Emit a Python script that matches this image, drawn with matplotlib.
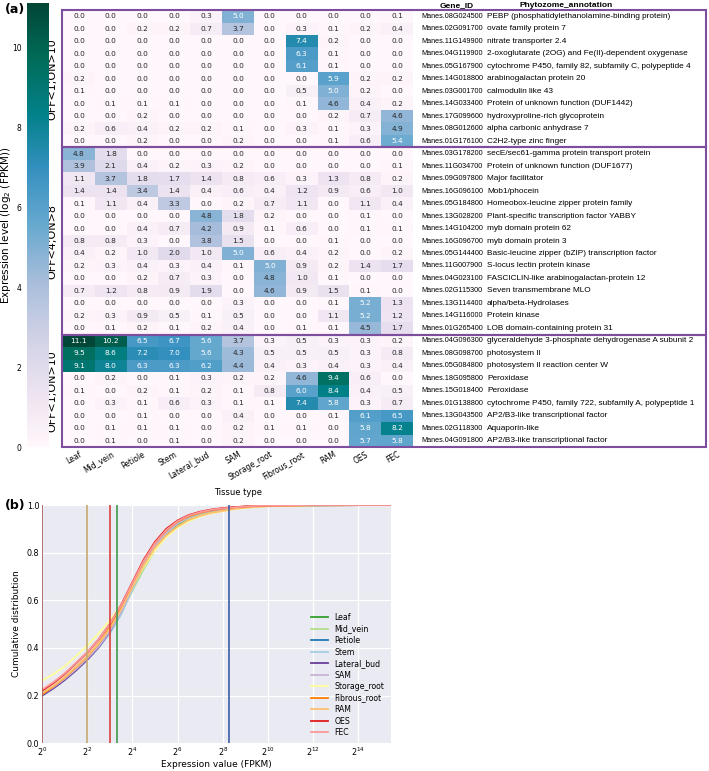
import numpy as np
import matplotlib
matplotlib.use('Agg')
import matplotlib.pyplot as plt
import seaborn as sns
from matplotlib.patches import Rectangle

# ---- panel (a) data ----
tissues = ['Leaf', 'Mid_vein', 'Petiole', 'Stem', 'Lateral_bud', 'SAM',
           'Storage_root', 'Fibrous_root', 'RAM', 'OES', 'FEC']
group_labels = ['OFF<1;ON>10', 'OFF<4;ON>8', 'OFF<1;ON>10']
group_sizes = [11, 15, 9]

gene_ids = [
    'Manes.08G024500', 'Manes.02G091700', 'Manes.11G149900', 'Manes.04G119900',
    'Manes.05G167900', 'Manes.14G018800', 'Manes.03G001700', 'Manes.14G033400',
    'Manes.17G099600', 'Manes.08G012600', 'Manes.01G176100',
    'Manes.03G178200', 'Manes.11G034700', 'Manes.09G097800', 'Manes.16G096100',
    'Manes.05G184800', 'Manes.13G028200', 'Manes.14G104200', 'Manes.16G096700',
    'Manes.05G144400', 'Manes.11G007900', 'Manes.04G023100', 'Manes.02G115300',
    'Manes.13G114400', 'Manes.14G116000', 'Manes.01G265400',
    'Manes.04G096300', 'Manes.08G098700', 'Manes.05G084800', 'Manes.18G095800',
    'Manes.15G018400', 'Manes.01G138800', 'Manes.13G043500', 'Manes.02G118300',
    'Manes.04G091800',
]
annotations = [
    'PEBP (phosphatidylethanolamine-binding protein)',
    'ovate family protein 7',
    'nitrate transporter 2.4',
    '2-oxoglutarate (2OG) and Fe(II)-dependent oxygenase',
    'cytochrome P450, family 82, subfamily C, polypeptide 4',
    'arabinogalactan protein 20',
    'calmodulin like 43',
    'Protein of unknown function (DUF1442)',
    'hydroxyproline-rich glycoprotein',
    'alpha carbonic anhydrase 7',
    'C2H2-type zinc finger',
    'secE/sec61-gamma protein transport protein',
    'Protein of unknown function (DUF1677)',
    'Major facilitator',
    'Mob1/phocein',
    'Homeobox-leucine zipper protein family',
    'Plant-specific transcription factor YABBY',
    'myb domain protein 62',
    'myb domain protein 3',
    'Basic-leucine zipper (bZIP) transcription factor',
    'S-locus lectin protein kinase',
    'FASCICLIN-like arabinogalactan-protein 12',
    'Seven transmembrane MLO',
    'alpha/beta-Hydrolases',
    'Protein kinase',
    'LOB domain-containing protein 31',
    'glyceraldehyde 3-phosphate dehydrogenase A subunit 2',
    'photosystem II',
    'photosystem II reaction center W',
    'Peroxidase',
    'Peroxidase',
    'cytochrome P450, family 722, subfamily A, polypeptide 1',
    'AP2/B3-like transcriptional factor',
    'Aquaporin-like',
    'AP2/B3-like transcriptional factor',
]
expr = [
    [0.0, 0.0, 0.0, 0.0, 0.3, 5.0, 0.0, 0.0, 0.0, 0.0, 0.1],
    [0.0, 0.0, 0.2, 0.2, 0.7, 3.7, 0.0, 0.3, 0.1, 0.2, 0.4],
    [0.0, 0.0, 0.0, 0.0, 0.0, 0.0, 0.0, 7.4, 0.2, 0.0, 0.0],
    [0.0, 0.0, 0.0, 0.0, 0.0, 0.0, 0.0, 6.3, 0.1, 0.0, 0.0],
    [0.0, 0.0, 0.0, 0.0, 0.0, 0.0, 0.0, 6.1, 0.1, 0.0, 0.0],
    [0.2, 0.0, 0.0, 0.0, 0.0, 0.0, 0.0, 0.0, 5.9, 0.2, 0.2],
    [0.1, 0.0, 0.0, 0.0, 0.0, 0.0, 0.0, 0.5, 5.0, 0.2, 0.0],
    [0.0, 0.1, 0.1, 0.1, 0.0, 0.0, 0.0, 0.1, 4.6, 0.4, 0.2],
    [0.0, 0.0, 0.2, 0.0, 0.0, 0.0, 0.0, 0.0, 0.2, 0.7, 4.6],
    [0.2, 0.6, 0.4, 0.2, 0.2, 0.1, 0.0, 0.3, 0.1, 0.3, 4.9],
    [0.0, 0.0, 0.2, 0.0, 0.0, 0.2, 0.0, 0.0, 0.1, 0.6, 5.4],
    [4.8, 1.8, 0.0, 0.0, 0.0, 0.0, 0.0, 0.0, 0.0, 0.0, 0.0],
    [3.9, 2.1, 0.4, 0.2, 0.3, 0.2, 0.0, 0.0, 0.0, 0.0, 0.1],
    [1.1, 3.7, 1.8, 1.7, 1.4, 0.8, 0.6, 0.3, 1.3, 0.8, 0.2],
    [1.4, 1.4, 3.4, 1.4, 0.4, 0.6, 0.4, 1.2, 0.9, 0.6, 1.0],
    [0.1, 1.1, 0.4, 3.3, 0.0, 0.2, 0.7, 1.1, 0.0, 1.1, 0.4],
    [0.0, 0.0, 0.0, 0.0, 4.8, 1.8, 0.2, 0.0, 0.0, 0.1, 0.0],
    [0.0, 0.0, 0.4, 0.7, 4.2, 0.9, 0.1, 0.6, 0.0, 0.1, 0.1],
    [0.8, 0.8, 0.3, 0.0, 3.8, 1.5, 0.0, 0.0, 0.1, 0.0, 0.0],
    [0.4, 0.2, 1.0, 2.0, 1.0, 5.0, 0.6, 0.4, 0.2, 0.0, 0.2],
    [0.2, 0.3, 0.4, 0.3, 0.4, 0.1, 5.0, 0.9, 0.2, 1.4, 1.7],
    [0.0, 0.0, 0.2, 0.7, 0.3, 0.0, 4.8, 1.0, 0.1, 0.0, 0.0],
    [0.7, 1.2, 0.8, 0.9, 1.9, 0.0, 4.6, 0.9, 1.5, 0.1, 0.0],
    [0.0, 0.0, 0.0, 0.0, 0.0, 0.3, 0.0, 0.0, 0.1, 5.2, 1.3],
    [0.2, 0.3, 0.9, 0.5, 0.1, 0.5, 0.0, 0.0, 1.1, 5.2, 1.2],
    [0.0, 0.1, 0.2, 0.1, 0.2, 0.4, 0.0, 0.1, 0.1, 4.5, 1.7],
    [11.1, 10.2, 6.5, 6.7, 5.6, 3.7, 0.3, 0.5, 0.3, 0.3, 0.2],
    [9.5, 8.6, 7.2, 7.0, 5.6, 4.3, 0.5, 0.5, 0.5, 0.3, 0.8],
    [9.1, 8.0, 6.3, 6.3, 6.2, 4.4, 0.4, 0.3, 0.4, 0.3, 0.4],
    [0.0, 0.2, 0.0, 0.1, 0.3, 0.2, 0.2, 4.6, 9.4, 0.6, 0.0],
    [0.1, 0.0, 0.2, 0.1, 0.2, 0.1, 0.8, 6.0, 8.4, 0.4, 0.5],
    [0.0, 0.3, 0.1, 0.6, 0.3, 0.1, 0.1, 7.4, 5.8, 0.3, 0.7],
    [0.0, 0.0, 0.1, 0.0, 0.0, 0.4, 0.0, 0.0, 0.1, 6.1, 6.5],
    [0.0, 0.1, 0.1, 0.1, 0.0, 0.2, 0.1, 0.1, 0.0, 5.8, 8.2],
    [0.0, 0.1, 0.0, 0.1, 0.0, 0.2, 0.0, 0.0, 0.0, 5.7, 5.8],
]

# ---- panel (b) data: cumulative distribution read at log2(FPKM) positions ----
log2_fpkm = [0, 0.5, 1, 1.5, 2, 2.5, 3, 3.5, 4, 4.5, 5, 5.5, 6, 6.5, 7, 7.5, 8, 8.5, 9, 10, 12, 15.4]
cdf_leaf = [0.205, 0.235, 0.27, 0.31, 0.355, 0.405, 0.47, 0.55, 0.655, 0.75, 0.825, 0.875, 0.915, 0.945, 0.963, 0.975, 0.983, 0.988, 0.992, 0.997, 0.999, 1.0]
cdf_midvein = [0.205, 0.235, 0.27, 0.31, 0.355, 0.405, 0.465, 0.545, 0.64, 0.73, 0.81, 0.87, 0.91, 0.94, 0.96, 0.972, 0.98, 0.986, 0.991, 0.996, 0.999, 1.0]
cdf_petiole = [0.2, 0.232, 0.268, 0.308, 0.352, 0.402, 0.465, 0.55, 0.655, 0.752, 0.83, 0.885, 0.925, 0.95, 0.967, 0.977, 0.984, 0.989, 0.993, 0.997, 0.999, 1.0]
cdf_stem = [0.2, 0.23, 0.265, 0.305, 0.35, 0.4, 0.46, 0.54, 0.645, 0.745, 0.825, 0.882, 0.922, 0.948, 0.965, 0.976, 0.983, 0.988, 0.992, 0.997, 0.999, 1.0]
cdf_lateral_bud = [0.2, 0.23, 0.265, 0.305, 0.35, 0.402, 0.468, 0.555, 0.66, 0.76, 0.838, 0.895, 0.93, 0.953, 0.968, 0.978, 0.985, 0.99, 0.993, 0.997, 0.999, 1.0]
cdf_sam = [0.205, 0.235, 0.27, 0.31, 0.355, 0.405, 0.47, 0.552, 0.655, 0.752, 0.83, 0.885, 0.924, 0.95, 0.966, 0.977, 0.984, 0.989, 0.993, 0.997, 0.999, 1.0]
cdf_storage_root = [0.262, 0.29, 0.322, 0.365, 0.41, 0.46, 0.515, 0.58, 0.66, 0.74, 0.81, 0.865, 0.905, 0.932, 0.952, 0.965, 0.974, 0.982, 0.988, 0.995, 0.999, 1.0]
cdf_fibrous_root = [0.205, 0.238, 0.275, 0.318, 0.363, 0.418, 0.485, 0.57, 0.67, 0.765, 0.84, 0.893, 0.93, 0.953, 0.968, 0.978, 0.985, 0.99, 0.993, 0.997, 0.999, 1.0]
cdf_ram = [0.21, 0.24, 0.277, 0.32, 0.365, 0.418, 0.48, 0.56, 0.655, 0.745, 0.82, 0.872, 0.91, 0.937, 0.955, 0.967, 0.975, 0.983, 0.989, 0.995, 0.999, 1.0]
cdf_oes = [0.22, 0.252, 0.29, 0.335, 0.38, 0.435, 0.5, 0.58, 0.675, 0.77, 0.845, 0.9, 0.935, 0.958, 0.972, 0.981, 0.987, 0.991, 0.994, 0.998, 1.0, 1.0]
cdf_fec = [0.225, 0.256, 0.293, 0.337, 0.382, 0.436, 0.5, 0.578, 0.672, 0.765, 0.84, 0.895, 0.932, 0.956, 0.97, 0.98, 0.986, 0.99, 0.994, 0.998, 1.0, 1.0]
cdf_curves = [cdf_leaf, cdf_midvein, cdf_petiole, cdf_stem, cdf_lateral_bud, cdf_sam,
              cdf_storage_root, cdf_fibrous_root, cdf_ram, cdf_oes, cdf_fec]
curve_colors = ['#33a02c', '#b2df8a', '#1f78b4', '#a6cee3', '#6a3d9a', '#cab2d6',
                '#ffff99', '#ff7f00', '#fdbf6f', '#e31a1c', '#fb9a99']

# threshold lines (FPKM)
vline_fpkm = [1, 4, 8, 10, 313]
vline_colors = ['#a8585c', '#c4a86c', '#d9413f', '#3e9a4c', '#3d5fa8']

fig = plt.figure(figsize=(7.09, 7.71), dpi=100)

# ---- (a) heatmap ----
ax = fig.add_axes([0.0889, 0.4202, 0.4937, 0.5668])
cax = fig.add_axes([0.0381, 0.4202, 0.031, 0.5759])
sns.heatmap(np.array(expr), ax=ax, cmap='PuBuGn', vmin=0, vmax=11.1,
            annot=True, fmt='.1f', annot_kws={'size': 5.3},
            cbar_ax=cax, xticklabels=tissues, yticklabels=False)
ax.tick_params(axis='x', length=0, labelsize=5.5, pad=2)
for lbl in ax.get_xticklabels():
    lbl.set_rotation(30)
    lbl.set_ha('right')
    lbl.set_rotation_mode('anchor')
ax.set_xlabel('Tissue type', fontsize=6, labelpad=4)

cax.yaxis.set_ticks_position('left')
cax.set_yticks([0, 2, 4, 6, 8, 10])
cax.tick_params(labelsize=5.5, length=0, pad=4)
cax.yaxis.set_label_position('left')
cax.set_ylabel('Expression level (log$_2$ (FPKM))', fontsize=7.5)
cax.yaxis.set_label_coords(-0.62, 0.5)

purple = '#7d4e9e'
start = 0
for label, size in zip(group_labels, group_sizes):
    ax.add_patch(Rectangle((-0.03, start), 20.25, size, fill=False, edgecolor=purple,
                           lw=1.5, clip_on=False, zorder=5))
    ax.text(-0.32, start + size / 2, label, rotation=90, ha='center', va='center',
            fontsize=8)
    start += size

for i, (gid, ann) in enumerate(zip(gene_ids, annotations)):
    ax.text(11.25, i + 0.5, gid, va='center', ha='left', fontsize=5.25,
            family='Liberation Sans', clip_on=False)
    ax.text(13.32, i + 0.5, ann, va='center', ha='left', fontsize=5.95,
            family='Liberation Sans', clip_on=False)
ax.text(11.85, -0.35, 'Gene_ID', weight='bold', fontsize=6, va='center',
        family='Liberation Sans')
ax.text(14.35, -0.35, 'Phytozome_annotation', weight='bold', fontsize=6, va='center',
        family='Liberation Sans')

fig.text(5 / 709, 1 - 9 / 771, '(a)', weight='bold', fontsize=9, va='center')

# ---- (b) cumulative distribution ----
ax2 = fig.add_axes([0.0592, 0.036, 0.492, 0.309])
ax2.set_facecolor('#eaeaf2')
for s in ax2.spines.values():
    s.set_visible(False)
ax2.grid(True, color='white', lw=0.9)
ax2.set_axisbelow(True)

for name, ys, c in zip(tissues, cdf_curves, curve_colors):
    ax2.plot(2.0 ** np.array(log2_fpkm), ys, color=c, lw=1.3, label=name)
for v, c in zip(vline_fpkm, vline_colors):
    ax2.axvline(v, color=c, lw=1.2)

ax2.set_xscale('log', base=2)
ax2.set_xlim(1, 2 ** 15.44)
ax2.set_ylim(0, 1.0)
exps = list(range(0, 15, 2))
ax2.set_xticks([2.0 ** e for e in exps])
ax2.set_xticklabels(['$2^{%d}$' % e for e in exps])
ax2.xaxis.set_minor_locator(matplotlib.ticker.NullLocator())
ax2.set_yticks([0, 0.2, 0.4, 0.6, 0.8, 1.0])
ax2.set_yticklabels(['0.0', '0.2', '0.4', '0.6', '0.8', '1.0'])
ax2.tick_params(length=0, labelsize=5.8, pad=2)
ax2.set_xlabel('Expression value (FPKM)', fontsize=6.5, labelpad=1)
ax2.set_ylabel('Cumulative distribution', fontsize=6.5, labelpad=4)
ax2.legend(loc='lower right', frameon=False, fontsize=5.6, handlelength=2.2,
           labelspacing=0.32, borderaxespad=0.4)

fig.text(5 / 709, 1 - 505 / 771, '(b)', weight='bold', fontsize=9, va='center')

fig.savefig('out.png', dpi=100)
